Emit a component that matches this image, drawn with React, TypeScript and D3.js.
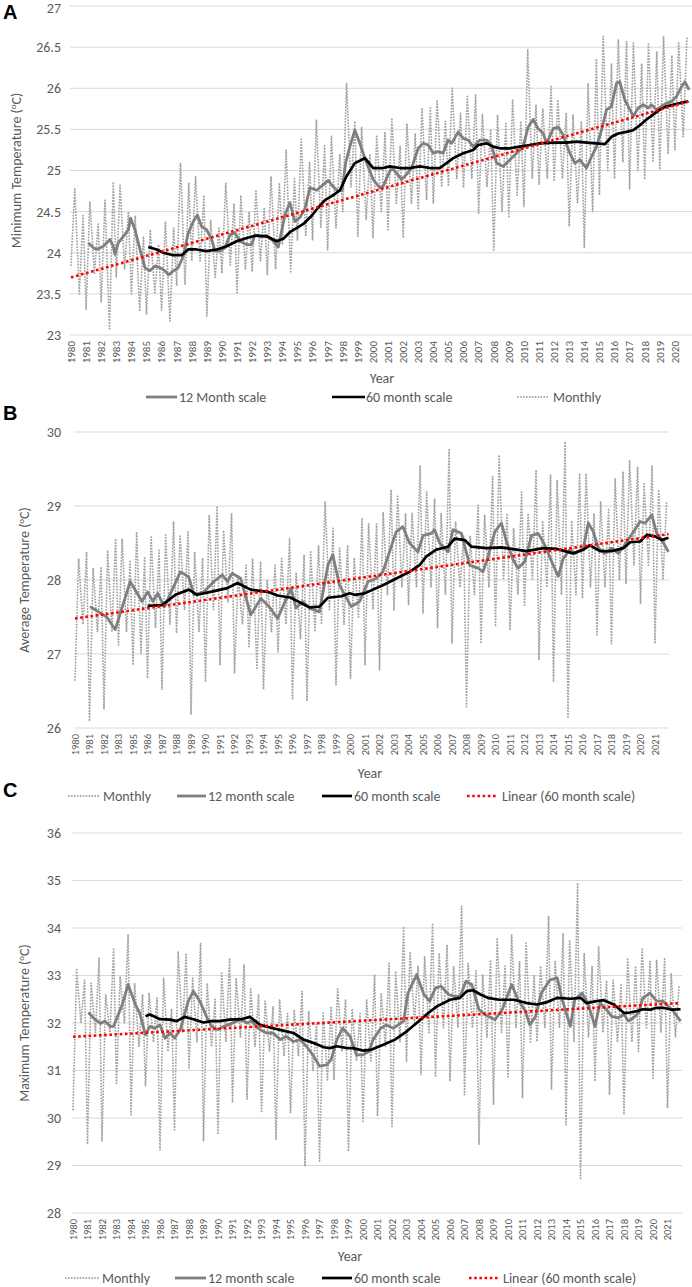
import React from "react";
import * as d3 from "d3";

// ---------- shared ----------
// position of the four monthly samples inside each year (fraction of a year)
const MONTH_OFFSETS = [0, 0.25, 0.55, 0.8];

// ---------- Panel A : minimum temperature ----------
const yearLabelsA = [1980,1981,1982,1983,1984,1985,1986,1987,1988,1989,1990,1991,1992,1993,1994,1995,1996,1997,1998,1999,2000,2001,2002,2003,2004,2005,2006,2007,2008,2009,2010,2011,2012,2013,2014,2015,2016,2017,2018,2019,2020];
const yTicksA = [23, 23.5, 24, 24.5, 25, 25.5, 26, 26.5, 27];
const monthlyA = [
  [23.85,24.79,23.5,24.45],[23.31,24.62,23.75,24.35],[23.4,24.64,23.06,24.86],[23.7,24.82,23.8,24.5],
  [23.5,24.45,23.29,24.2],[23.25,24.28,23.5,24.1],[23.3,24.38,23.17,24.3],[23.6,25.09,23.61,24.85],
  [23.9,24.93,23.9,24.7],[23.23,24.4,23.7,24.3],[23.75,24.85,23.85,24.6],[23.5,24.7,23.8,24.5],
  [23.77,24.75,23.9,24.55],[23.73,24.93,23.8,24.85],[24.1,25.25,23.77,24.9],[24.15,25.38,24.2,25.1],
  [24.15,25.62,24.3,25.3],[24.03,25.42,24.3,25.2],[24.5,26.06,24.8,25.6],[24.2,25.53,24.4,25.2],
  [24.18,25.43,24.5,25.47],[24.28,25.64,24.6,25.3],[24.18,25.57,24.6,25.45],[24.52,25.76,24.64,25.76],
  [24.6,25.86,24.8,25.6],[24.81,26.0,24.9,25.7],[24.79,25.9,24.9,25.92],[24.48,25.68,24.8,25.5],
  [24.02,25.68,24.5,25.57],[24.44,25.86,24.7,25.6],[24.56,26.47,24.9,25.8],[24.83,25.75,24.9,26.02],
  [24.87,25.86,24.9,25.7],[24.32,25.68,24.6,25.6],[24.06,26.06,24.5,26.36],[24.7,26.63,25.0,26.3],
  [24.9,26.59,25.1,26.57],[24.77,26.55,25.0,26.3],[24.89,26.55,25.1,26.45],[25.01,26.63,25.2,26.4],
  [25.25,26.55,25.41,26.63]
];
const ma12A: [number, number][] = [
  [1.15,24.12],[1.48,24.06],[1.7,24.04],[2.14,24.08],[2.58,24.16],[2.8,24.08],[2.91,23.98],[3.13,24.12],
  [3.47,24.2],[3.8,24.28],[3.95,24.42],[4.24,24.28],[4.57,24.04],[4.9,23.82],[5.23,23.78],[5.56,23.84],
  [5.89,23.82],[6.23,23.78],[6.45,23.73],[6.78,23.78],[7.11,23.82],[7.44,23.96],[7.77,24.24],[8.1,24.38],
  [8.37,24.46],[8.65,24.32],[8.98,24.28],[9.32,24.16],[9.54,24.02],[9.87,24.02],[10.2,24.06],[10.53,24.22],
  [10.86,24.24],[11.19,24.14],[11.63,24.1],[11.96,24.1],[12.19,24.22],[12.52,24.19],[12.96,24.21],[13.29,24.16],
  [13.73,24.07],[14.17,24.46],[14.5,24.61],[14.83,24.38],[15.17,24.43],[15.5,24.54],[15.83,24.79],[16.27,24.76],
  [16.6,24.81],[17.04,24.88],[17.37,24.8],[17.7,24.75],[17.95,24.76],[18.2,25.1],[18.47,25.29],[18.8,25.49],
  [19.13,25.33],[19.58,25.09],[20.02,24.89],[20.46,24.79],[20.68,24.81],[21.01,24.95],[21.23,25.03],[21.56,24.97],
  [21.89,24.89],[22.22,24.95],[22.56,25.03],[23.0,25.27],[23.33,25.33],[23.66,25.31],[23.99,25.21],[24.32,25.23],
  [24.65,25.21],[24.98,25.37],[25.21,25.33],[25.65,25.47],[25.98,25.39],[26.31,25.37],[26.64,25.29],[27.08,25.37],
  [27.52,25.37],[27.85,25.31],[28.19,25.09],[28.63,25.05],[29.07,25.13],[29.51,25.21],[29.95,25.29],[30.28,25.53],
  [30.61,25.62],[30.94,25.51],[31.28,25.45],[31.5,25.33],[31.94,25.51],[32.27,25.53],[32.6,25.43],[33.04,25.21],
  [33.37,25.09],[33.7,25.13],[34.15,25.03],[34.48,25.17],[34.81,25.29],[35.14,25.49],[35.47,25.74],[35.8,25.78],
  [36.13,26.06],[36.35,26.08],[36.68,25.86],[37.02,25.74],[37.24,25.66],[37.57,25.76],[37.9,25.8],[38.23,25.76],
  [38.45,25.8],[38.78,25.74],[39.11,25.78],[39.44,25.82],[39.77,25.84],[40.11,25.9],[40.44,26.02],[40.66,26.08],
  [40.94,25.98]
];
const ma60A: [number, number][] = [
  [5.12,24.07],[5.67,24.04],[6.11,24.0],[6.78,23.97],[7.33,23.97],[7.77,24.04],[8.32,24.04],[8.98,24.02],
  [9.65,24.04],[10.31,24.08],[10.97,24.14],[11.63,24.18],[12.3,24.21],[12.96,24.2],[13.62,24.14],[14.06,24.17],
  [14.5,24.25],[14.94,24.3],[15.39,24.35],[15.94,24.45],[16.38,24.55],[16.82,24.64],[17.37,24.7],[17.81,24.76],
  [18.25,24.93],[18.8,25.09],[19.47,25.15],[20.02,25.03],[20.68,25.03],[21.12,25.05],[21.78,25.03],[22.45,25.03],
  [23.11,25.05],[23.77,25.03],[24.43,25.03],[24.87,25.09],[25.32,25.15],[25.98,25.21],[26.64,25.25],[26.97,25.31],
  [27.52,25.33],[27.96,25.29],[28.41,25.27],[29.07,25.27],[29.73,25.29],[30.39,25.31],[31.05,25.33],[31.94,25.34],
  [32.82,25.34],[33.48,25.35],[34.15,25.34],[34.81,25.33],[35.36,25.32],[35.8,25.41],[36.24,25.45],[36.79,25.47],
  [37.24,25.49],[37.68,25.55],[38.12,25.62],[38.56,25.68],[39.0,25.74],[39.44,25.78],[39.88,25.8],[40.33,25.82],
  [40.88,25.84]
];
const trendA: [number, number][] = [[0, 23.7], [40.92, 25.84]];

// ---------- Panel B : average temperature ----------
const yearLabelsB = [1980,1981,1982,1983,1985,1986,1987,1988,1989,1990,1991,1992,1993,1994,1995,1996,1997,1998,1999,2000,2001,2002,2003,2004,2005,2006,2007,2008,2009,2010,2011,2012,2013,2014,2015,2016,2017,2018,2019,2020,2021];
const yTicksB = [26, 27, 28, 29, 30];
const monthlyB = [
  [26.65,28.29,27.4,28.38],[26.09,28.16,27.3,28.18],[26.25,28.4,27.3,28.56],[27.12,28.56,27.3,28.25],
  [26.85,28.65,27.01,28.3],[26.67,28.58,27.35,28.4],[26.52,28.61,27.4,28.79],[27.28,28.61,27.6,28.65],
  [26.18,28.38,27.3,28.3],[26.63,28.88,27.6,29.0],[26.85,28.67,27.7,28.9],[26.74,28.07,27.4,28.2],
  [27.1,28.29,26.81,28.25],[26.52,28.0,27.3,28.2],[27.03,28.29,27.4,28.56],[26.38,28.1,27.2,28.34],
  [26.36,28.38,27.3,28.47],[27.4,29.06,27.6,28.7],[26.58,28.43,27.4,28.47],[26.67,28.3,27.5,28.83],
  [26.85,28.76,27.6,28.76],[26.78,28.92,27.8,29.22],[27.59,29.13,27.9,28.9],[27.66,28.9,27.9,29.55],
  [27.55,29.19,27.9,29.1],[27.35,28.9,27.8,29.76],[27.14,28.79,27.9,28.6],[26.29,28.6,27.8,29.01],
  [27.14,28.88,27.9,29.4],[27.37,29.69,28.0,28.9],[27.32,28.7,27.8,29.19],[27.66,28.9,28.0,29.49],
  [26.92,28.8,27.9,29.42],[26.63,29.35,27.8,29.87],[26.13,28.8,27.8,29.44],[27.75,29.44,27.9,28.9],
  [27.26,29.06,27.9,28.95],[27.14,29.37,28.0,29.46],[27.95,29.62,28.2,29.53],[27.68,29.3,28.2,29.55],
  [27.14,29.22,28.0,29.06]
];
const ma12B: [number, number][] = [
  [1.04,27.64],[2.19,27.5],[2.77,27.33],[3.81,27.98],[4.62,27.71],[5.01,27.84],[5.38,27.71],[5.7,27.82],
  [6.17,27.64],[7.27,28.11],[7.85,28.04],[8.2,27.8],[8.89,27.84],[9.58,27.98],[10.16,28.07],[10.51,27.98],
  [10.85,28.09],[11.43,28.02],[12.12,27.53],[12.82,27.75],[13.39,27.64],[13.97,27.48],[14.9,27.89],[15.24,27.62],
  [15.7,27.71],[16.17,27.62],[16.86,27.57],[17.44,28.2],[17.78,28.34],[18.24,27.93],[19.05,27.64],[19.63,27.71],
  [20.21,27.98],[20.77,28.02],[21.23,28.11],[21.69,28.38],[22.15,28.65],[22.61,28.72],[23.07,28.5],[23.65,28.38],
  [24.0,28.6],[24.57,28.63],[24.8,28.68],[25.15,28.5],[25.72,28.38],[26.07,28.68],[26.65,28.63],[27.22,28.2],
  [27.8,28.16],[28.14,28.11],[28.49,28.32],[28.95,28.65],[29.41,28.77],[29.76,28.52],[30.22,28.27],[30.56,28.16],
  [31.02,28.25],[31.48,28.6],[31.94,28.63],[32.41,28.47],[32.87,28.25],[33.33,28.05],[33.67,28.29],[34.13,28.41],
  [34.48,28.36],[35.06,28.43],[35.4,28.77],[35.75,28.65],[36.09,28.43],[36.55,28.36],[37.01,28.43],[37.47,28.36],
  [37.82,28.45],[38.51,28.65],[38.97,28.79],[39.32,28.77],[39.78,28.88],[40.12,28.63],[40.47,28.54],[40.93,28.38]
];
const ma60B: [number, number][] = [
  [5.01,27.65],[6.0,27.66],[6.93,27.8],[7.85,27.87],[8.43,27.8],[9.35,27.84],[10.51,27.89],[11.2,27.96],
  [12.12,27.87],[13.28,27.84],[13.97,27.79],[14.9,27.76],[16.17,27.63],[16.86,27.64],[17.44,27.76],[18.36,27.78],
  [18.94,27.82],[19.28,27.8],[19.98,27.82],[20.55,27.87],[21.23,27.93],[22.15,28.02],[23.07,28.11],[23.76,28.2],
  [24.23,28.32],[24.92,28.41],[25.72,28.45],[26.18,28.56],[26.88,28.54],[27.34,28.45],[28.37,28.43],[29.41,28.44],
  [30.45,28.41],[31.14,28.39],[32.29,28.43],[33.21,28.42],[34.36,28.36],[35.06,28.41],[35.52,28.47],[36.21,28.39],
  [37.01,28.39],[37.82,28.43],[38.28,28.51],[38.97,28.52],[39.43,28.61],[40.0,28.59],[40.47,28.54],[40.93,28.57]
];
const trendB: [number, number][] = [[0, 27.48], [40.93, 28.62]];

// ---------- Panel C : maximum temperature ----------
const yearLabelsC = [1980,1981,1982,1983,1984,1985,1986,1987,1988,1989,1990,1991,1992,1993,1994,1995,1996,1997,1998,1999,2000,2001,2002,2003,2004,2005,2006,2007,2008,2009,2010,2011,2012,2013,2014,2015,2016,2017,2018,2019,2020,2021];
const yTicksC = [28, 29, 30, 31, 32, 33, 34, 35, 36];
const monthlyC = [
  [30.18,33.12,32.0,32.9],[29.44,32.84,31.8,33.37],[29.51,32.6,31.8,33.58],[30.7,32.98,32.0,33.86],
  [30.07,32.84,31.5,32.6],[30.67,32.63,31.6,32.53],[29.33,32.95,31.4,32.3],[29.75,33.51,31.8,33.47],
  [31.05,32.95,31.6,33.68],[29.51,32.84,31.5,32.5],[29.65,33.05,31.6,33.37],[30.32,32.95,31.7,33.23],
  [30.39,32.74,31.5,32.6],[30.11,32.46,31.4,32.35],[29.54,32.49,31.3,32.2],[30.11,32.28,31.3,32.67],
  [28.98,32.25,31.0,32.0],[29.09,32.21,30.8,32.35],[30.8,32.74,31.4,32.5],[29.3,32.3,31.2,32.2],
  [29.93,32.49,31.2,33.02],[30.04,32.63,31.5,33.26],[29.82,33.09,31.6,34.03],[31.19,33.5,32.0,33.2],
  [30.91,33.4,31.8,34.1],[30.88,33.47,31.9,33.65],[30.77,33.19,31.9,34.46],[30.49,33.26,31.9,33.1],
  [29.44,33.02,31.7,33.33],[30.28,33.79,31.8,33.2],[30.84,33.86,31.9,33.3],[30.42,33.68,31.6,33.0],
  [31.61,33.2,31.9,34.25],[30.6,33.3,31.9,33.89],[29.86,33.75,31.6,34.95],[28.7,33.47,31.7,33.2],
  [30.77,33.61,31.8,32.9],[30.49,32.9,31.6,32.8],[30.07,33.37,31.6,33.2],[31.4,33.58,31.9,33.3],
  [30.84,33.33,31.8,33.35],[30.21,33.05,31.7,32.8]
];
const ma12C: [number, number][] = [
  [1.06,32.22],[1.5,32.08],[1.9,31.99],[2.2,32.04],[2.55,31.93],[2.8,31.93],[3.4,32.39],[3.8,32.81],
  [4.3,32.39],[4.6,32.21],[5.0,31.75],[5.3,31.93],[5.65,31.89],[6.0,31.96],[6.35,31.68],[6.7,31.79],
  [7.0,31.68],[7.4,31.86],[7.95,32.46],[8.3,32.67],[8.75,32.46],[9.2,32.14],[9.55,31.93],[10.0,31.86],
  [10.4,31.93],[10.7,31.96],[11.3,32.04],[11.6,32.07],[12.0,32.0],[12.3,32.04],[12.9,31.86],[13.35,31.79],
  [13.8,31.79],[14.3,31.65],[14.7,31.72],[15.2,31.61],[15.65,31.65],[16.1,31.51],[16.6,31.3],[17.0,31.09],
  [17.5,31.12],[17.8,31.23],[18.2,31.65],[18.6,31.89],[19.1,31.72],[19.55,31.33],[20.0,31.33],[20.4,31.4],
  [20.7,31.65],[21.2,31.88],[21.6,31.96],[22.1,31.89],[22.8,32.04],[23.1,32.63],[23.7,33.02],[24.2,32.6],
  [24.6,32.46],[25.0,32.74],[25.4,32.77],[25.9,32.6],[26.3,32.56],[26.7,32.56],[27.1,32.88],[27.5,32.81],
  [28.0,32.28],[28.4,32.18],[29.1,32.07],[29.6,32.28],[30.25,32.81],[30.7,32.49],[31.2,32.25],[31.5,31.96],
  [31.9,32.14],[32.3,32.63],[32.9,32.91],[33.4,32.95],[33.7,32.53],[34.3,31.93],[34.6,32.49],[35.1,32.63],
  [35.5,32.42],[36.0,31.93],[36.35,32.42],[36.8,32.28],[37.15,32.14],[37.6,32.11],[38.0,32.18],[38.3,32.04],
  [38.65,32.11],[39.0,32.21],[39.3,32.53],[39.8,32.63],[40.25,32.46],[40.7,32.46],[41.05,32.35],[41.4,32.25],
  [41.9,32.04]
];
const ma60C: [number, number][] = [
  [5.0,32.14],[5.3,32.18],[6.0,32.08],[6.7,32.07],[7.15,32.04],[7.7,32.13],[8.3,32.08],[9.0,32.01],
  [9.55,32.04],[10.1,32.04],[10.8,32.07],[11.6,32.08],[12.2,32.13],[12.9,31.96],[13.8,31.89],[14.5,31.84],
  [15.2,31.79],[15.9,31.65],[16.6,31.58],[17.3,31.49],[17.7,31.47],[18.2,31.51],[18.9,31.47],[19.3,31.47],
  [20.0,31.42],[20.6,31.44],[21.4,31.54],[22.2,31.65],[23.0,31.82],[23.7,32.0],[24.5,32.21],[25.1,32.35],
  [26.0,32.49],[26.7,32.53],[27.15,32.67],[27.6,32.69],[28.1,32.6],[28.6,32.53],[29.4,32.49],[30.4,32.49],
  [31.3,32.42],[32.0,32.39],[32.7,32.44],[33.4,32.53],[34.3,32.51],[35.0,32.53],[35.4,32.42],[36.1,32.46],
  [36.6,32.48],[37.3,32.39],[38.0,32.21],[38.4,32.22],[38.9,32.25],[39.3,32.29],[39.8,32.28],[40.25,32.32],
  [40.7,32.32],[41.3,32.28],[41.9,32.29]
];
const trendC: [number, number][] = [[0, 31.71], [41.9, 32.42]];

// ---------- styles ----------
const FONT = "Carlito, Lato, 'Open Sans', sans-serif";
const TXT = "#595959";
const GRID = "#d9d9d9";
const C_MONTHLY = "#a3a3a3";
const C_MA12 = "#7f7f7f";
const C_MA60 = "#000000";
const C_TREND = "#ff0000";

type LegendItem = { kind: "monthly" | "ma12" | "ma60" | "trend"; label: string; x1: number; x2: number; tx: number };

const panels = [
  {
    letter: "A", letterY: 19,
    title: "Minimum Temperature (", titleX: 21,
    top: 6, bottom: 335, yDomain: [23, 27], yTicks: yTicksA,
    xLeft: 71, xRight: 690, nYears: 41, gridX1: 70, gridX2: 692,
    yearLabels: yearLabelsA, yearFont: 11,
    monthly: monthlyA, ma12: ma12A, ma60: ma60A, trend: trendA,
    yearTitle: [382, 383], legendY: 397,
    legend: [
      { kind: "ma12", label: "12 Month scale", x1: 146, x2: 177, tx: 179 },
      { kind: "ma60", label: "60 month scale", x1: 332, x2: 365, tx: 366 },
      { kind: "monthly", label: "Monthly", x1: 518, x2: 548, tx: 553 },
    ] as LegendItem[],
  },
  {
    letter: "B", letterY: 420,
    title: "Average Temperature (", titleX: 29,
    top: 432, bottom: 728, yDomain: [26, 30], yTicks: yTicksB,
    xLeft: 75, xRight: 669.5, nYears: 41, gridX1: 74, gridX2: 669,
    yearLabels: yearLabelsB, yearFont: 10.5,
    monthly: monthlyB, ma12: ma12B, ma60: ma60B, trend: trendB,
    yearTitle: [370, 778], legendY: 796,
    legend: [
      { kind: "monthly", label: "Monthly", x1: 69, x2: 100, tx: 103 },
      { kind: "ma12", label: "12 month scale", x1: 177, x2: 206, tx: 208 },
      { kind: "ma60", label: "60 month scale", x1: 322, x2: 352, tx: 354 },
      { kind: "trend", label: "Linear (60 month scale)", x1: 467, x2: 498, tx: 502 },
    ] as LegendItem[],
  },
  {
    letter: "C", letterY: 797,
    title: "Maximum Temperature (", titleX: 29,
    top: 833, bottom: 1213, yDomain: [28, 36], yTicks: yTicksC,
    xLeft: 73, xRight: 682, nYears: 42, gridX1: 72, gridX2: 682,
    yearLabels: yearLabelsC, yearFont: 10.5,
    monthly: monthlyC, ma12: ma12C, ma60: ma60C, trend: trendC,
    yearTitle: [350, 1261], legendY: 1278,
    legend: [
      { kind: "monthly", label: "Monthly", x1: 66, x2: 100, tx: 102 },
      { kind: "ma12", label: "12 month scale", x1: 175, x2: 206, tx: 208 },
      { kind: "ma60", label: "60 month scale", x1: 322, x2: 352, tx: 354 },
      { kind: "trend", label: "Linear (60 month scale)", x1: 469, x2: 500, tx: 503 },
    ] as LegendItem[],
  },
];

const strokeFor = (kind: LegendItem["kind"]) => {
  switch (kind) {
    case "monthly":
      return { stroke: C_MONTHLY, strokeWidth: 1.9, strokeDasharray: "0.01 2.9", strokeLinecap: "round" as const };
    case "ma12":
      return { stroke: C_MA12, strokeWidth: 2.8, strokeLinejoin: "round" as const };
    case "ma60":
      return { stroke: C_MA60, strokeWidth: 2.7, strokeLinejoin: "round" as const };
    default:
      return { stroke: C_TREND, strokeWidth: 2.6, strokeDasharray: "2.6 2.6" };
  }
};

function Panel({ p }: { p: (typeof panels)[number] }) {
  const x = d3.scaleLinear().domain([0, p.nYears]).range([p.xLeft, p.xRight]);
  const y = d3.scaleLinear().domain(p.yDomain).range([p.bottom, p.top]);
  const line = d3
    .line<[number, number]>()
    .x((d) => x(d[0]))
    .y((d) => y(d[1]));
  const monthlyPts: [number, number][] = p.monthly.flatMap((vals, i) =>
    vals.map((v, k) => [i + MONTH_OFFSETS[k], v] as [number, number])
  );
  const midY = (p.top + p.bottom) / 2;
  return (
    <g>
      <text x={3} y={p.letterY} fontFamily="'Liberation Sans', Arial, sans-serif" fontWeight="bold" fontSize={20} fill="#000">
        {p.letter}
      </text>
      {p.yTicks.map((t) => (
        <g key={t}>
          <line x1={p.gridX1} x2={p.gridX2} y1={y(t)} y2={y(t)} stroke={GRID} strokeWidth={1} />
          <text x={61} y={Math.max(y(t), 8)} dy="0.35em" textAnchor="end" fontFamily={FONT} fontSize={14} fill={TXT}>
            {String(t)}
          </text>
        </g>
      ))}
      <text
        transform={`translate(${p.titleX},${midY}) rotate(-90)`}
        textAnchor="middle"
        fontFamily={FONT}
        fontSize={14}
        fill={TXT}
      >
        {p.title}
        <tspan fontSize={9} dy={-5}>o</tspan>
        <tspan dy={5}>C)</tspan>
      </text>
      {p.yearLabels.map((yr, i) => (
        <text
          key={yr}
          transform={`translate(${x(i)},${p.bottom + 6}) rotate(-90)`}
          dy="0.35em"
          textAnchor="end"
          fontFamily={FONT}
          fontSize={p.yearFont}
          fill={TXT}
        >
          {yr}
        </text>
      ))}
      <text x={p.yearTitle[0]} y={p.yearTitle[1]} textAnchor="middle" fontFamily={FONT} fontSize={14} fill={TXT}>
        Year
      </text>
      <path d={line(monthlyPts) || ""} fill="none" {...strokeFor("monthly")} />
      <path d={line(p.ma12) || ""} fill="none" {...strokeFor("ma12")} />
      <path d={line(p.ma60) || ""} fill="none" {...strokeFor("ma60")} />
      <path d={line(p.trend) || ""} fill="none" {...strokeFor("trend")} />
      {p.legend.map((it) => (
        <g key={it.label}>
          <line x1={it.x1} x2={it.x2} y1={p.legendY} y2={p.legendY} {...strokeFor(it.kind)} />
          <text x={it.tx} y={p.legendY} dy="0.35em" fontFamily={FONT} fontSize={14} fill={TXT}>
            {it.label}
          </text>
        </g>
      ))}
    </g>
  );
}

export default function App() {
  return (
    <svg
      width={692}
      height={1287}
      viewBox="0 0 692 1287"
      style={{ position: "absolute", left: 0, top: 0, background: "#fff" }}
    >
      <rect x={0} y={0} width={692} height={1287} fill="#fff" />
      {panels.map((p) => (
        <Panel key={p.letter} p={p} />
      ))}
    </svg>
  );
}
